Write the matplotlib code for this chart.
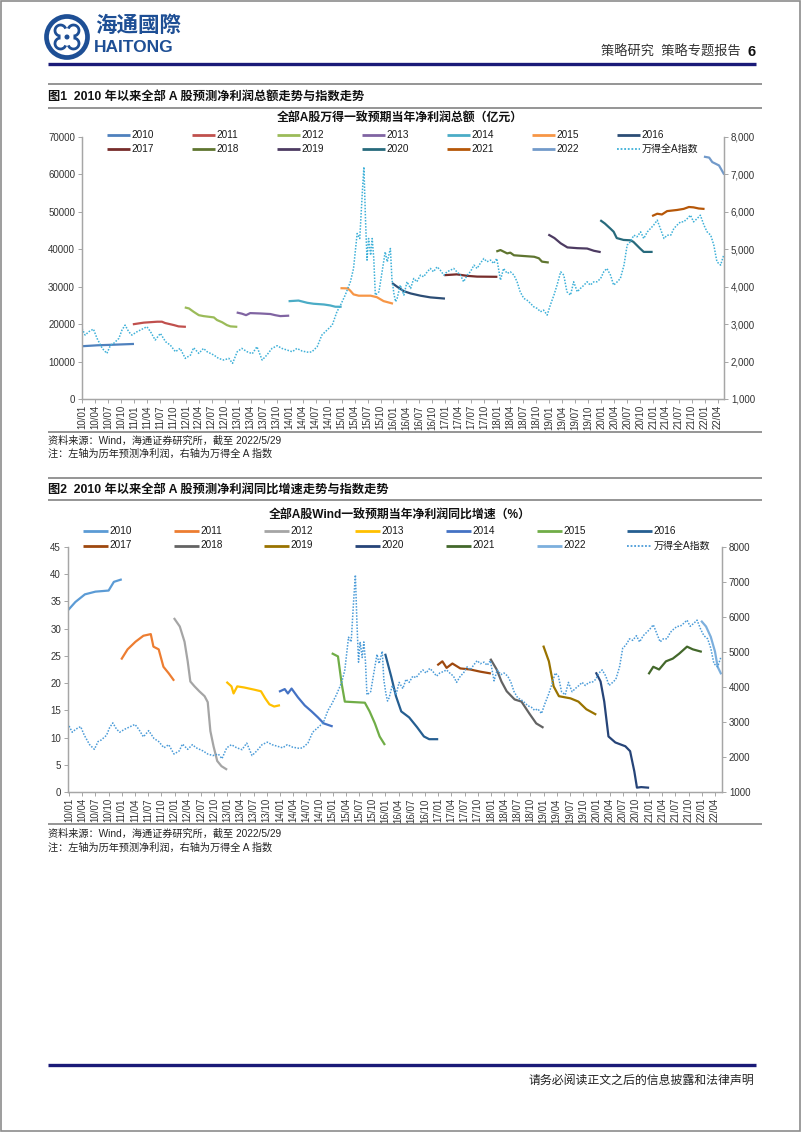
import matplotlib
matplotlib.use("Agg")
import matplotlib.pyplot as plt
from matplotlib.patches import Rectangle, Circle, Arc

plt.rcParams['font.family'] = ['Liberation Sans', 'Noto Sans CJK SC']

# ---------------------------------------------------------------- data
quarter_labels = [f"{y:02d}/{m:02d}" for y in range(10, 23) for m in (1, 4, 7, 10)][:50]
quarter_pos = [2010 + 0.25 * i for i in range(50)]
year_names = [str(y) for y in range(2010, 2023)]
index_name = "万得全A指数"

# Wind All-A index (shared by both charts)
index_t = [2010.00, 2010.06, 2010.13, 2010.22, 2010.29, 2010.39, 2010.48, 2010.55, 2010.61, 2010.71,
           2010.77, 2010.83, 2010.90, 2010.96, 2011.06, 2011.16, 2011.25, 2011.32, 2011.41, 2011.51,
           2011.61, 2011.70, 2011.80, 2011.89, 2011.99, 2012.09, 2012.15, 2012.25, 2012.34, 2012.41,
           2012.54, 2012.63, 2012.73, 2012.83, 2012.90, 2012.99, 2013.08, 2013.18, 2013.28, 2013.37,
           2013.47, 2013.56, 2013.66, 2013.76, 2013.85, 2013.95, 2014.05, 2014.14, 2014.24, 2014.37,
           2014.43, 2014.53, 2014.62, 2014.72, 2014.82, 2014.91, 2014.98, 2015.07, 2015.17, 2015.23,
           2015.30, 2015.35, 2015.40, 2015.43, 2015.46, 2015.49, 2015.52, 2015.56, 2015.59, 2015.62,
           2015.65, 2015.72, 2015.78, 2015.84, 2015.88, 2015.94, 2015.97, 2016.01, 2016.04, 2016.07,
           2016.13, 2016.20, 2016.26, 2016.33, 2016.39, 2016.45, 2016.52, 2016.58, 2016.65, 2016.71,
           2016.77, 2016.84, 2016.90, 2016.97, 2017.03, 2017.10, 2017.16, 2017.22, 2017.29, 2017.35,
           2017.42, 2017.48, 2017.55, 2017.61, 2017.67, 2017.74, 2017.80, 2017.87, 2017.93, 2017.99,
           2018.06, 2018.12, 2018.19, 2018.25, 2018.32, 2018.38, 2018.44, 2018.51, 2018.57, 2018.64,
           2018.70, 2018.77, 2018.83, 2018.89, 2018.96, 2019.02, 2019.09, 2019.15, 2019.22, 2019.28,
           2019.34, 2019.41, 2019.47, 2019.54, 2019.60, 2019.67, 2019.73, 2019.79, 2019.86, 2019.92,
           2019.99, 2020.05, 2020.11, 2020.18, 2020.24, 2020.31, 2020.37, 2020.44, 2020.50, 2020.56,
           2020.63, 2020.69, 2020.76, 2020.82, 2020.89, 2020.95, 2021.01, 2021.08, 2021.14, 2021.21,
           2021.27, 2021.34, 2021.40, 2021.46, 2021.53, 2021.59, 2021.66, 2021.72, 2021.78, 2021.85,
           2021.91, 2021.98, 2022.04, 2022.11, 2022.17, 2022.23, 2022.30, 2022.36]
index_v = [2886, 2708, 2797, 2868, 2619, 2352, 2219, 2441, 2486, 2619,
           2842, 2975, 2797, 2708, 2797, 2868, 2931, 2797, 2575, 2753,
           2530, 2441, 2263, 2352, 2085, 2174, 2370, 2219, 2352, 2263,
           2174, 2085, 2041, 2085, 1952, 2263, 2352, 2263, 2210, 2397,
           2041, 2174, 2352, 2424, 2352, 2308, 2263, 2352, 2281, 2246,
           2263, 2397, 2708, 2842, 2975, 3331, 3509, 3776, 4132, 4488,
           5422, 5288, 6534, 7201, 5822, 4710, 5288, 4843, 5288, 4754,
           3776, 3865, 4399, 4932, 4666, 5021, 4200, 3800, 3600, 3690,
           4043, 3776, 4132, 3954, 4221, 4132, 4310, 4265, 4399, 4488,
           4399, 4532, 4443, 4310, 4399, 4443, 4488, 4399, 4310, 4132,
           4310, 4399, 4577, 4488, 4621, 4754, 4666, 4710, 4621, 4754,
           4176, 4488, 4354, 4399, 4310, 4132, 3865, 3687, 3642, 3553,
           3464, 3420, 3331, 3375, 3242, 3509, 3776, 4043, 4399, 4310,
           3865, 3776, 4132, 3865, 3954, 4043, 4132, 4043, 4132, 4132,
           4221, 4399, 4488, 4310, 4043, 4132, 4221, 4577, 5110, 5199,
           5377, 5333, 5466, 5288, 5466, 5555, 5644, 5778, 5555, 5288,
           5377, 5377, 5555, 5644, 5733, 5733, 5822, 5911, 5733, 5822,
           5911, 5644, 5466, 5377, 5110, 4666, 4577, 4843]

# Chart 1: consensus net profit of the current year (100 million yuan)
profit_2010_t = [2010.00, 2010.30, 2010.60, 2010.98]
profit_2010 = [14100, 14350, 14500, 14700]
profit_2011_t = [2011.00, 2011.19, 2011.45, 2011.54, 2011.60, 2011.77, 2011.86, 2011.98]
profit_2011 = [20000, 20400, 20650, 20650, 20300, 19750, 19400, 19300]
profit_2012_t = [2012.00, 2012.06, 2012.15, 2012.25, 2012.34, 2012.54, 2012.60, 2012.70, 2012.79, 2012.86, 2012.97]
profit_2012 = [24400, 24200, 23300, 22400, 22150, 21800, 21100, 20500, 19750, 19400, 19300]
profit_2013_t = [2013.00, 2013.08, 2013.16, 2013.24, 2013.44, 2013.63, 2013.72, 2013.82, 2013.97]
profit_2013 = [23050, 22800, 22400, 22950, 22850, 22700, 22400, 22150, 22250]
profit_2014_t = [2014.00, 2014.17, 2014.34, 2014.46, 2014.66, 2014.78, 2014.88, 2014.98]
profit_2014 = [26150, 26300, 25700, 25450, 25250, 25000, 24650, 24650]
profit_2015_t = [2015.00, 2015.12, 2015.17, 2015.23, 2015.33, 2015.56, 2015.68, 2015.81, 2015.97]
profit_2015 = [29600, 29550, 28900, 27950, 27600, 27600, 27200, 26150, 25550]
profit_2016_t = [2015.99, 2016.07, 2016.20, 2016.33, 2016.52, 2016.71, 2016.97]
profit_2016 = [30800, 30000, 28800, 28200, 27600, 27150, 26850]
profit_2017_t = [2017.00, 2017.22, 2017.42, 2017.61, 2017.98]
profit_2017 = [33100, 33300, 32900, 32700, 32650]
profit_2018_t = [2018.00, 2018.06, 2018.19, 2018.25, 2018.32, 2018.51, 2018.71, 2018.80, 2018.86, 2018.97]
profit_2018 = [39500, 39800, 38900, 39100, 38400, 38200, 38000, 37600, 36700, 36500]
profit_2019_t = [2019.00, 2019.10, 2019.22, 2019.35, 2019.54, 2019.73, 2019.86, 2019.97]
profit_2019 = [43800, 43000, 41600, 40500, 40300, 40200, 39600, 39300]
profit_2020_t = [2020.00, 2020.07, 2020.18, 2020.24, 2020.30, 2020.43, 2020.56, 2020.62, 2020.75, 2020.82, 2020.97]
profit_2020 = [47600, 46900, 45500, 44700, 43000, 42500, 42400, 42000, 40200, 39300, 39300]
profit_2021_t = [2021.00, 2021.08, 2021.17, 2021.27, 2021.46, 2021.59, 2021.69, 2021.78, 2021.88, 2021.97]
profit_2021 = [49000, 49500, 49300, 50200, 50500, 50800, 51300, 51200, 50900, 50800]
profit_2022_t = [2022.00, 2022.08, 2022.14, 2022.27, 2022.36]
profit_2022 = [64700, 64500, 63300, 62400, 60200]

# Chart 2: consensus YoY growth of net profit (%)
growth_2010_t = [2010.00, 2010.12, 2010.30, 2010.50, 2010.75, 2010.85, 2010.98]
growth_2010 = [33.6, 34.9, 36.3, 36.8, 37.0, 38.6, 39.0]
growth_2011_t = [2011.00, 2011.11, 2011.26, 2011.41, 2011.55, 2011.60, 2011.70, 2011.79, 2011.89, 2011.98]
growth_2011 = [24.5, 26.2, 27.6, 28.7, 29.0, 26.7, 26.2, 23.0, 21.8, 20.6]
growth_2012_t = [2012.00, 2012.10, 2012.19, 2012.25, 2012.30, 2012.38, 2012.47, 2012.57, 2012.63, 2012.68, 2012.74, 2012.81, 2012.89, 2012.98]
growth_2012 = [31.8, 30.4, 27.6, 24.0, 20.3, 19.4, 18.5, 17.6, 16.5, 11.2, 8.4, 5.7, 4.75, 4.2]
growth_2013_t = [2013.00, 2013.08, 2013.12, 2013.19, 2013.32, 2013.51, 2013.64, 2013.72, 2013.80, 2013.89, 2013.98]
growth_2013 = [20.1, 19.4, 18.1, 19.4, 19.2, 18.8, 18.5, 17.2, 16.1, 15.7, 15.9]
growth_2014_t = [2014.00, 2014.09, 2014.15, 2014.22, 2014.34, 2014.47, 2014.60, 2014.72, 2014.83, 2014.98]
growth_2014 = [18.5, 18.9, 18.1, 19.0, 17.4, 15.9, 14.8, 13.7, 12.6, 12.1]
growth_2015_t = [2015.00, 2015.10, 2015.17, 2015.23, 2015.42, 2015.61, 2015.70, 2015.80, 2015.89, 2015.98]
growth_2015 = [25.4, 24.9, 19.9, 16.6, 16.5, 16.4, 14.8, 12.6, 10.2, 8.8]
growth_2016_t = [2016.00, 2016.11, 2016.20, 2016.30, 2016.45, 2016.60, 2016.73, 2016.83, 2016.98]
growth_2016 = [25.2, 21.2, 17.6, 14.8, 13.7, 11.9, 10.2, 9.7, 9.7]
growth_2017_t = [2017.00, 2017.08, 2017.16, 2017.27, 2017.42, 2017.61, 2017.80, 2017.98]
growth_2017 = [23.4, 24.0, 22.8, 23.6, 22.7, 22.5, 22.1, 21.8]
growth_2018_t = [2018.00, 2018.11, 2018.20, 2018.30, 2018.45, 2018.58, 2018.73, 2018.86, 2018.98]
growth_2018 = [24.3, 22.5, 20.3, 18.5, 17.0, 16.6, 14.4, 12.6, 11.9]
growth_2019_t = [2019.00, 2019.10, 2019.19, 2019.29, 2019.51, 2019.66, 2019.81, 2019.98]
growth_2019 = [26.7, 24.0, 19.4, 17.6, 17.2, 16.6, 15.2, 14.3]
growth_2020_t = [2020.00, 2020.08, 2020.15, 2020.23, 2020.36, 2020.55, 2020.64, 2020.72, 2020.77, 2020.85, 2020.98]
growth_2020 = [21.8, 20.3, 16.6, 10.2, 9.1, 8.4, 7.5, 3.8, 0.8, 0.9, 0.8]
growth_2021_t = [2021.00, 2021.08, 2021.19, 2021.32, 2021.45, 2021.57, 2021.72, 2021.83, 2021.98]
growth_2021 = [21.8, 23.0, 22.5, 24.0, 24.5, 25.4, 26.7, 26.2, 25.8]
growth_2022_t = [2022.00, 2022.08, 2022.17, 2022.25, 2022.30, 2022.36]
growth_2022 = [31.3, 30.4, 28.5, 25.8, 23.0, 21.8]

left1_ticks = [0, 10000, 20000, 30000, 40000, 50000, 60000, 70000]
right1_ticks = [1000, 2000, 3000, 4000, 5000, 6000, 7000, 8000]
right1_labels = ['1,000', '2,000', '3,000', '4,000', '5,000', '6,000', '7,000', '8,000']
left2_ticks = [0, 5, 10, 15, 20, 25, 30, 35, 40, 45]
right2_ticks = [1000, 2000, 3000, 4000, 5000, 6000, 7000, 8000]

profit_series = [(profit_2010_t, profit_2010), (profit_2011_t, profit_2011), (profit_2012_t, profit_2012),
                 (profit_2013_t, profit_2013), (profit_2014_t, profit_2014), (profit_2015_t, profit_2015),
                 (profit_2016_t, profit_2016), (profit_2017_t, profit_2017), (profit_2018_t, profit_2018),
                 (profit_2019_t, profit_2019), (profit_2020_t, profit_2020), (profit_2021_t, profit_2021),
                 (profit_2022_t, profit_2022)]
growth_series = [(growth_2010_t, growth_2010), (growth_2011_t, growth_2011), (growth_2012_t, growth_2012),
                 (growth_2013_t, growth_2013), (growth_2014_t, growth_2014), (growth_2015_t, growth_2015),
                 (growth_2016_t, growth_2016), (growth_2017_t, growth_2017), (growth_2018_t, growth_2018),
                 (growth_2019_t, growth_2019), (growth_2020_t, growth_2020), (growth_2021_t, growth_2021),
                 (growth_2022_t, growth_2022)]

colors1 = ['#4F81BD', '#C0504D', '#9BBB59', '#8064A2', '#4BACC6', '#F79646', '#2C4D75',
           '#772C2A', '#5F7530', '#4D3B62', '#276A7C', '#B65708', '#729ACA']
index_color1 = '#3DB0D8'
colors2 = ['#5B9BD5', '#ED7D31', '#A5A5A5', '#FFC000', '#4472C4', '#70AD47', '#255E91',
           '#9E480E', '#636363', '#997300', '#264478', '#43682B', '#7CAFDD']
index_color2 = '#4A9BD8'

# ---------------------------------------------------------------- figure
W, H = 802, 1133
fig = plt.figure(figsize=(W / 100, H / 100), dpi=100)
fig.patch.set_facecolor('white')

# overlay in pixel coordinates for page furniture
ov = fig.add_axes([0, 0, 1, 1])
ov.set_xlim(0, W)
ov.set_ylim(H, 0)
ov.axis('off')
ov.patch.set_alpha(0)

ov.add_patch(Rectangle((1, 1), W - 3, H - 3, fill=False, ec='#8C8C8C', lw=1.2))

logo_c = '#1E4F95'
ov.add_patch(Circle((67, 37), 20.5, fill=False, ec=logo_c, lw=3.4))
for (cx, cy, t1, t2) in [(60.5, 30.5, 90, 340), (73.5, 30.5, 200, 450), (60.5, 43.5, 20, 270), (73.5, 43.5, 270, 520)]:
    ov.add_patch(Arc((cx, cy), 11, 11, theta1=t1, theta2=t2, ec=logo_c, lw=2.0))
ov.add_patch(Circle((67, 37), 1.8, color=logo_c))
ov.text(95, 26, "海通國際", fontsize=15.5, fontweight='bold', color=logo_c, va='center', ha='left')
ov.text(94, 47, "HAITONG", fontsize=12.5, fontweight='bold', color=logo_c, va='center', ha='left')
ov.text(741, 52, "策略研究  策略专题报告", fontsize=9.5, color='#333333', va='center', ha='right')
ov.text(747, 52, "6", fontsize=10.5, fontweight='bold', color='#111111', va='center', ha='left')
ov.plot([48, 756], [64, 64], color='#1A1A78', lw=2.4, solid_capstyle='butt')

gray = '#8C8C8C'
for yy in (84, 108, 432, 478, 500, 824):
    ov.plot([48, 762], [yy, yy], color=gray, lw=1.3, solid_capstyle='butt')

ov.text(48, 96.5, "图1  2010 年以来全部 A 股预测净利润总额走势与指数走势", fontsize=8.8,
        fontweight='bold', va='center', ha='left', color='#111111')
ov.text(48, 490, "图2  2010 年以来全部 A 股预测净利润同比增速走势与指数走势", fontsize=8.8,
        fontweight='bold', va='center', ha='left', color='#111111')

ov.text(400, 118, "全部A股万得一致预期当年净利润总额（亿元）", fontsize=8.6, fontweight='bold',
        va='center', ha='center', color='#111111')
ov.text(400, 515, "全部A股Wind一致预期当年净利润同比增速（%）", fontsize=8.6, fontweight='bold',
        va='center', ha='center', color='#111111')

src = "资料来源：Wind，海通证券研究所，截至 2022/5/29"
note = "注：左轴为历年预测净利润，右轴为万得全 A 指数"
ov.text(48, 441, src, fontsize=7.3, va='center', ha='left', color='#222222')
ov.text(48, 454, note, fontsize=7.3, va='center', ha='left', color='#222222')
ov.text(48, 834, src, fontsize=7.3, va='center', ha='left', color='#222222')
ov.text(48, 848, note, fontsize=7.3, va='center', ha='left', color='#222222')

ov.plot([48, 756], [1065, 1065], color='#1A1A78', lw=2.4, solid_capstyle='butt')
ov.text(754, 1081, "请务必阅读正文之后的信息披露和法律声明", fontsize=8.6, va='center',
        ha='right', color='#222222')


def legend_rows(colors, idx_color, x0, dx, ys, ll, fs):
    names = year_names + [index_name]
    cols = colors + [idx_color]
    for i, (nm, cc) in enumerate(zip(names, cols)):
        r, c = divmod(i, 7)
        x = x0 + c * dx
        y = ys[r]
        if nm == index_name:
            ov.plot([x, x + ll], [y, y], color=cc, lw=1.3, linestyle=(0, (1, 1)))
        else:
            ov.plot([x, x + ll], [y, y], color=cc, lw=2.0, solid_capstyle='butt')
        ov.text(x + ll + 1.5, y, nm, fontsize=fs, va='center', ha='left', color='#1A1A1A')


legend_rows(colors1, index_color1, 107, 85, (135, 148.5), 23, 7.2)
legend_rows(colors2, index_color2, 83, 90.7, (530.5, 545.5), 25, 7.2)


def style_axes(ax, axr, x_left, x_right):
    ax.set_xlim(x_left, x_right)
    ax.set_xticks(quarter_pos)
    ax.set_xticklabels(quarter_labels, rotation=90, fontsize=6.6, color='#333333')
    for a in (ax, axr):
        a.patch.set_alpha(0)
        a.spines['top'].set_visible(False)
        for s in ('left', 'right', 'bottom'):
            a.spines[s].set_color('#A6A6A6')
            a.spines[s].set_linewidth(0.9)
        a.tick_params(axis='both', direction='out', length=3, width=0.7, color='#A6A6A6',
                      labelsize=7, labelcolor='#333333', pad=2)
    ax.tick_params(axis='x', pad=1.5)


def px_rect(l, r, t, b):
    return [l / W, 1 - b / H, (r - l) / W, (b - t) / H]


# ---------------------------------------------------------------- chart 1
ax1 = fig.add_axes(px_rect(82, 724, 137, 399))
ax1r = ax1.twinx()
for (t, v), c in zip(profit_series, colors1):
    ax1.plot(t, v, color=c, lw=1.6, solid_joinstyle='round')
ax1r.plot(index_t, index_v, color=index_color1, lw=1.1, linestyle=(0, (1, 1)))
ax1.set_ylim(0, 70000)
ax1.set_yticks(left1_ticks)
ax1.set_yticklabels([str(v) for v in left1_ticks])
ax1r.set_ylim(1000, 8000)
ax1r.set_yticks(right1_ticks)
ax1r.set_yticklabels(right1_labels)
style_axes(ax1, ax1r, 2010.0, 2022.366)

# ---------------------------------------------------------------- chart 2
ax2 = fig.add_axes(px_rect(68, 722, 547, 792))
ax2r = ax2.twinx()
for (t, v), c in zip(growth_series, colors2):
    ax2.plot(t, v, color=c, lw=1.6, solid_joinstyle='round')
ax2r.plot(index_t, index_v, color=index_color2, lw=1.1, linestyle=(0, (1, 1)))
ax2.set_ylim(0, 45)
ax2.set_yticks(left2_ticks)
ax2r.set_ylim(1000, 8000)
ax2r.set_yticks(right2_ticks)
style_axes(ax2, ax2r, 2009.98, 2022.383)

fig.savefig("out.png", dpi=100, facecolor='white')
